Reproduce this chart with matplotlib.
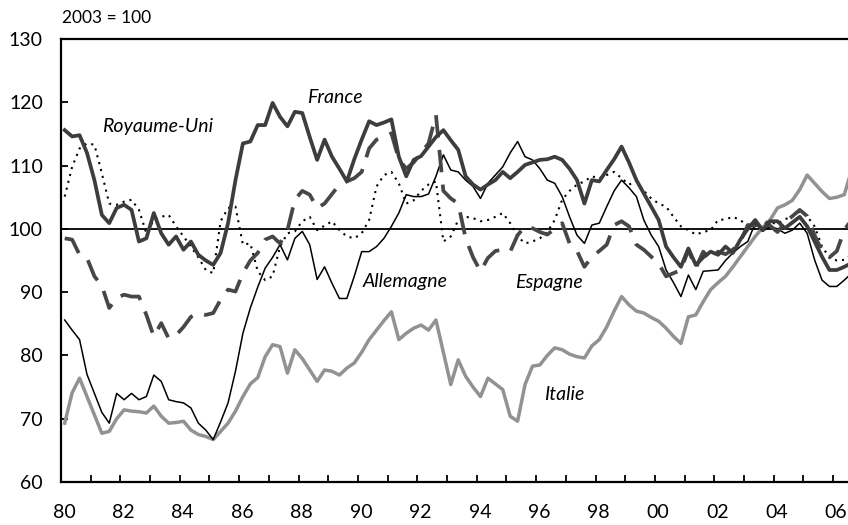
import matplotlib.pyplot as plt
import numpy as np
from matplotlib.transforms import ScaledTranslation

plt.rcParams["font.family"] = ["Lato", "DejaVu Sans"]

# quarterly index, 2003 = 100, first point = 1980 Q1
first_quarter = 1980.125

france = [
    115.6, 114.6, 114.8, 112.0,  107.7, 102.2, 100.9, 103.3,
    103.8, 103.0, 98.0, 98.5,  102.5, 99.3, 97.5, 98.8,
    96.7, 98.0, 95.9, 95.0,  94.3, 96.2, 100.9, 107.7,
    113.5, 113.8, 116.4, 116.4,  119.9, 117.7, 116.2, 118.5,
    118.3, 114.5, 110.9, 114.1,  111.4, 109.5, 107.5, 111.0,
    114.1, 117.0, 116.4, 116.8,  117.3, 111.4, 108.3, 110.9,
    111.5, 113.0, 114.5, 115.6,  114.0, 112.5, 108.3, 107.0,
    106.2, 107.0, 107.7, 109.0,  108.0, 109.0, 110.1, 110.5,
    110.9, 111.0, 111.4, 110.9,  109.5, 107.7, 104.0, 107.7,
    107.5, 109.3, 111.0, 113.0,  110.5, 107.7, 105.6, 103.5,
    101.4, 97.2, 95.5, 94.0,  96.9, 94.3, 95.5, 96.4,
    95.9, 97.2, 96.2, 98.3,  100.0, 101.4, 99.8, 101.2,
    101.2, 100.1, 101.0, 101.9,  100.4, 98.0, 95.6, 93.5,
    93.5, 94.0, 94.6,
]

allemagne = [
    85.6, 84.0, 82.5, 77.0,  74.0, 71.0, 69.3, 74.0,
    73.0, 74.0, 73.0, 73.5,  76.9, 75.9, 73.0, 72.7,
    72.5, 71.7, 69.3, 68.2,  66.7, 69.5, 72.5, 77.5,
    83.5, 87.5, 90.8, 93.8,  95.5, 97.5, 95.1, 98.5,
    99.6, 97.5, 92.0, 94.0,  91.4, 89.0, 89.0, 92.5,
    96.4, 96.4, 97.2, 98.5,  100.4, 102.5, 105.4, 105.1,
    105.1, 105.5, 108.3, 111.7,  109.3, 109.0, 107.7, 106.7,
    104.8, 107.2, 108.5, 109.8,  112.0, 113.8, 111.4, 110.9,
    109.5, 107.7, 107.2, 105.1,  101.9, 99.0, 97.7, 100.6,
    100.9, 103.5, 106.0, 107.7,  106.5, 105.1, 101.4, 99.0,
    97.2, 93.5, 91.5, 89.3,  92.7, 90.4, 93.3, 93.4,
    93.5, 95.0, 96.2, 97.2,  98.0, 100.9, 99.6, 100.4,
    100.0, 99.3, 99.8, 100.9,  99.3, 95.1, 91.9, 90.9,
    90.9, 91.9, 93.0,
]

royaume_uni = [
    105.1, 109.8, 112.7, 113.5,  113.3, 108.8, 104.0, 103.8,
    104.3, 104.6, 103.0, 99.3,  101.4, 101.9, 102.2, 100.4,
    98.8, 97.2, 95.5, 93.5,  93.0, 101.2, 103.3, 103.5,
    97.5, 97.7, 93.3, 91.9,  92.5, 97.2, 99.3, 99.6,
    101.2, 101.9, 99.8, 100.5,  101.2, 99.8, 98.8, 98.5,
    99.3, 101.4, 106.7, 108.5,  109.0, 107.2, 104.0, 104.5,
    106.0, 107.0, 107.5, 98.0,  98.8, 101.4, 101.9, 101.7,
    101.2, 101.4, 101.9, 102.5,  100.9, 98.8, 97.7, 98.0,
    98.5, 99.5, 101.4, 104.6,  106.0, 107.0, 107.5, 108.3,
    108.0, 108.5, 109.0, 108.0,  107.0, 107.5, 106.0, 104.8,
    104.0, 103.5, 101.9, 100.4,  99.8, 99.1, 99.5, 99.8,
    101.4, 101.5, 101.9, 101.4,  100.4, 100.0, 100.5, 101.0,
    100.8, 101.5, 102.0, 102.7,  102.0, 100.4, 97.2, 95.5,
    95.0, 95.1, 96.0,
]

espagne = [
    98.5, 98.3, 95.9, 95.4,  92.5, 91.0, 87.5, 89.1,
    89.6, 89.3, 89.3, 86.4,  83.0, 85.1, 82.7, 83.2,
    84.5, 86.1, 86.7, 86.4,  86.7, 88.8, 90.4, 90.1,
    93.0, 95.0, 96.2, 98.3,  98.8, 97.7, 99.8, 104.6,
    106.0, 105.4, 103.3, 104.0,  105.5, 107.0, 107.5, 108.0,
    109.0, 112.7, 114.1, 114.5,  115.1, 111.0, 109.5, 110.5,
    112.0, 113.5, 118.0, 106.0,  104.8, 104.0, 98.5, 95.5,
    93.3, 95.4, 96.5, 96.7,  96.4, 99.0, 100.4, 100.1,
    99.5, 99.1, 100.0, 100.9,  97.7, 96.5, 94.0, 95.6,
    96.5, 97.5, 100.6, 101.2,  100.4, 97.5, 96.7, 95.6,
    94.5, 92.5, 93.0, 93.5,  96.7, 93.8, 96.4, 95.1,
    96.4, 96.0, 96.7, 98.0,  100.6, 100.5, 101.5, 100.5,
    99.5, 101.0, 102.0, 103.0,  102.0, 99.0, 96.5, 95.5,
    96.5, 99.8, 101.5,
]

italie = [
    69.3, 74.1, 76.4, 73.5,  70.6, 67.7, 68.0, 70.0,
    71.4, 71.2, 71.1, 70.9,  72.0, 70.4, 69.3, 69.4,
    69.6, 68.2, 67.5, 67.2,  66.7, 68.0, 69.3, 71.2,
    73.5, 75.5, 76.5, 79.8,  81.7, 81.4, 77.2, 80.9,
    79.5, 77.7, 75.9, 77.7,  77.5, 76.9, 78.0, 78.8,
    80.5, 82.5, 84.0, 85.5,  86.9, 82.5, 83.5, 84.3,
    84.8, 84.0, 85.6, 80.5,  75.4, 79.3, 76.7, 75.0,
    73.5, 76.4, 75.5, 74.6,  70.4, 69.6, 75.4, 78.3,
    78.5, 80.0, 81.2, 80.9,  80.2, 79.8, 79.6, 81.5,
    82.5, 84.5, 87.0, 89.3,  88.0, 87.0, 86.7, 86.0,
    85.4, 84.3, 83.0, 81.9,  86.1, 86.4, 88.5, 90.4,
    91.5, 92.5, 94.0, 95.6,  97.2, 98.8, 100.2, 101.4,
    103.3, 103.8, 104.5, 106.2,  108.5, 107.2, 105.9, 104.8,
    105.0, 105.4, 109.3,
]

years = list(range(1980, 2007))
year_labels = [f"{y % 100:02d}" if y % 2 == 0 else "" for y in years]
y_ticks = list(range(60, 131, 10))

t = first_quarter + 0.25 * np.arange(len(france))

fig = plt.figure(figsize=(8.48, 5.25), dpi=100)
ax = fig.add_axes([61 / 848, 43 / 525, 787 / 848, 443 / 525])

ax.axhline(100, color="black", lw=1.3, zorder=1)
ax.plot(t, italie, color="#929292", lw=2.5, zorder=2)
ax.plot(t, allemagne, color="black", lw=1.1, zorder=3)
ax.plot(t, royaume_uni, color="black", lw=1.5, linestyle=(0, (1, 2.4)), zorder=3)
ax.plot(t, espagne, color="#474747", lw=2.7, linestyle=(0, (6, 3.3)), zorder=4)
ax.plot(t, france, color="#3d3d3d", lw=2.7, zorder=5)

ax.set_xlim(1980, 2006.5)
ax.set_ylim(60, 130)
ax.set_xticks(years)
ax.set_xticklabels(year_labels)
ax.set_yticks(y_ticks)
ax.tick_params(axis="both", direction="in", length=5, width=1.3, labelsize=14)
ax.tick_params(axis="x", pad=16)
ax.tick_params(axis="y", pad=13)
shift = ScaledTranslation(3 / 100, 0, fig.dpi_scale_trans)
for lbl in ax.get_xticklabels():
    lbl.set_transform(lbl.get_transform() + shift)
for side in ("left", "bottom", "top"):
    ax.spines[side].set_linewidth(1.6)
ax.spines["right"].set_visible(False)

label_style = dict(fontsize=14, style="italic", va="center", ha="left")
ax.text(1981.37, 116.2, "Royaume-Uni", **label_style)
ax.text(1988.27, 120.8, "France", **label_style)
ax.text(1990.17, 91.7, "Allemagne", **label_style)
ax.text(1995.30, 91.6, "Espagne", **label_style)
ax.text(1996.26, 73.8, "Italie", **label_style)

fig.text(62 / 848, 1 - 18 / 525, "2003 = 100", fontsize=12.5, va="center")

fig.savefig("out.png", dpi=100)
